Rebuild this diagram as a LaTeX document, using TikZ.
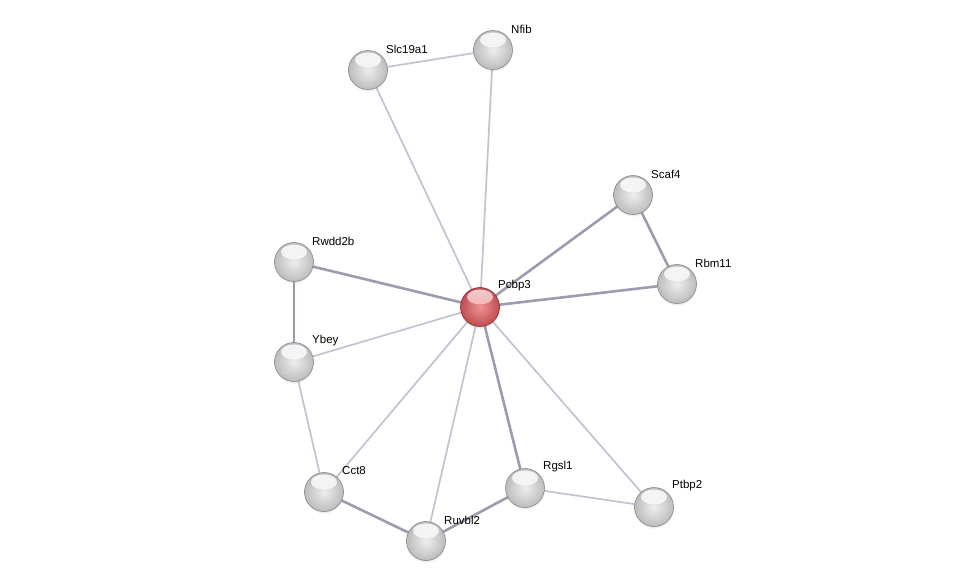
\documentclass[tikz,border=0pt]{standalone}
\usepackage{fontspec}
\setmainfont{Liberation Sans}
\usetikzlibrary{calc,backgrounds,shadows}
\definecolor{thickedge}{RGB}{156,156,176}
\definecolor{thinedge}{RGB}{196,194,210}
\definecolor{ballout}{RGB}{188,188,188}
\definecolor{ballin}{RGB}{238,238,238}
\definecolor{ballrim}{RGB}{135,135,135}
\definecolor{redout}{RGB}{192,78,82}
\definecolor{redin}{RGB}{238,146,148}
\definecolor{redrim}{RGB}{140,40,44}
\begin{document}
\begin{tikzpicture}[x=1pt,y=-1pt,
  ballbase/.style={circle, minimum size=39pt, inner sep=0pt,
    circular drop shadow={shadow xshift=0pt, shadow yshift=-2pt, shadow scale=1.02, opacity=0.2}},
  greyball/.style={ballbase, draw=ballrim, line width=0.6pt,
    inner color=ballin, outer color=ballout,
    path picture={\shade[top color=white, bottom color=ballin, opacity=0.85]
      ($(path picture bounding box.center)+(0,-10)$) ellipse (13 and 7.5);}},
  redball/.style={ballbase, draw=redrim, line width=0.6pt,
    inner color=redin, outer color=redout,
    path picture={\shade[top color=white!75!redin, bottom color=redin, opacity=0.85]
      ($(path picture bounding box.center)+(0,-10)$) ellipse (13 and 7.5);}},
  lbl/.style={anchor=west, inner sep=0pt, font=\fontsize{11.5}{13}\selectfont},
  thick edge/.style={draw=thickedge, line width=2.6pt},
  thin edge/.style={draw=thinedge, line width=1.7pt}
]
\useasboundingbox (0,0) rectangle (975,587);

\node[greyball] (nfib) at (493,50) {};
\node[greyball] (slc) at (368,70) {};
\node[greyball] (scaf4) at (633,195) {};
\node[greyball] (rwdd2b) at (294,262) {};
\node[greyball] (rbm11) at (677,284) {};
\node[redball] (pcbp3) at (480,307) {};
\node[greyball] (ybey) at (294,362) {};
\node[greyball] (cct8) at (324,492) {};
\node[greyball] (rgsl1) at (525,488) {};
\node[greyball] (ptbp2) at (654,507) {};
\node[greyball] (ruvbl2) at (426,541) {};

\node[lbl] (lnfib) at ($(nfib)+(18,-21)$) {Nfib};
\node[lbl] (lslc) at ($(slc)+(18,-21)$) {Slc19a1};
\node[lbl] (lscaf4) at ($(scaf4)+(18,-21)$) {Scaf4};
\node[lbl] (lrwdd2b) at ($(rwdd2b)+(18,-21)$) {Rwdd2b};
\node[lbl] (lrbm11) at ($(rbm11)+(18,-21)$) {Rbm11};
\node[lbl] (lpcbp3) at ($(pcbp3)+(18,-21)$) {Pcbp3};
\node[lbl] (lybey) at ($(ybey)+(18,-21)$) {Ybey};
\node[lbl] (lcct8) at ($(cct8)+(18,-21)$) {Cct8};
\node[lbl] (lrgsl1) at ($(rgsl1)+(18,-21)$) {Rgsl1};
\node[lbl] (lptbp2) at ($(ptbp2)+(18,-21)$) {Ptbp2};
\node[lbl] (lruvbl2) at ($(ruvbl2)+(18,-21)$) {Ruvbl2};

\begin{scope}[on background layer]
  \fill[white] (0,0) rectangle (975,587);
  \draw[thin edge] (slc.center) -- (nfib.center);
  \draw[thin edge] (slc.center) -- (pcbp3.center);
  \draw[thin edge] (nfib.center) -- (pcbp3.center);
  \draw[thin edge] (pcbp3.center) -- (ybey.center);
  \draw[thin edge] (ybey.center) -- (cct8.center);
  \draw[thin edge] (cct8.center) -- (pcbp3.center);
  \draw[thin edge] (ruvbl2.center) -- (pcbp3.center);
  \draw[thin edge] (pcbp3.center) -- (ptbp2.center);
  \draw[thin edge] (rgsl1.center) -- (ptbp2.center);
  \draw[thick edge] (pcbp3.center) -- (rwdd2b.center);
  \draw[thick edge] (rwdd2b.center) -- (ybey.center);
  \draw[thick edge] (pcbp3.center) -- (scaf4.center);
  \draw[thick edge] (scaf4.center) -- (rbm11.center);
  \draw[thick edge] (pcbp3.center) -- (rbm11.center);
  \draw[thick edge] (cct8.center) -- (ruvbl2.center);
  \draw[thick edge] (ruvbl2.center) -- (rgsl1.center);
  \draw[thick edge] (pcbp3.center) -- (rgsl1.center);
\end{scope}
\end{tikzpicture}
\end{document}
